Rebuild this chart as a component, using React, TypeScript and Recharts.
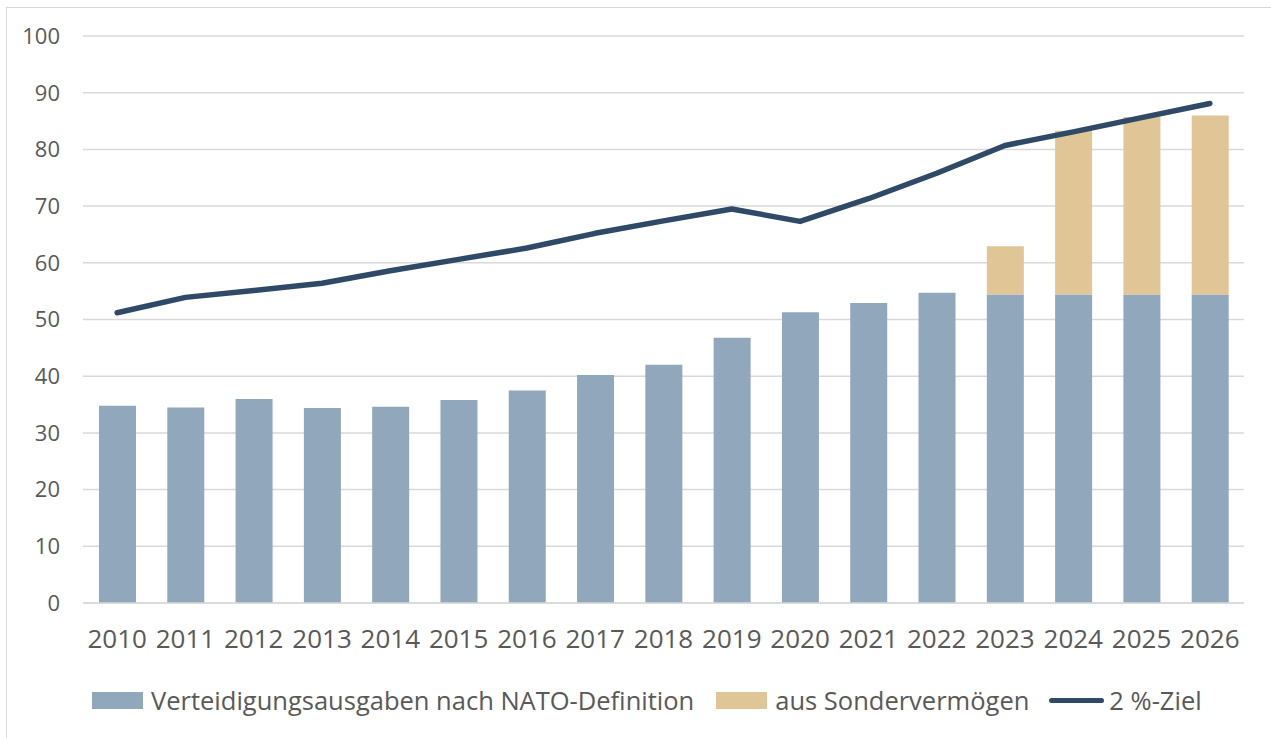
import React from "react";
import { ComposedChart, Bar, Line, XAxis, YAxis, CartesianGrid, Legend } from "recharts";

const years = ["2010","2011","2012","2013","2014","2015","2016","2017","2018","2019","2020","2021","2022","2023","2024","2025","2026"];
const natoSpending = [34.8,34.5,36.0,34.4,34.6,35.8,37.5,40.2,42.0,46.8,51.3,52.9,54.7,54.4,54.4,54.4,54.4];
const specialFund = [0,0,0,0,0,0,0,0,0,0,0,0,0,8.5,28.9,31.3,31.6];
const twoPercentTarget = [51.2,53.9,55.1,56.4,58.6,60.6,62.6,65.2,67.4,69.5,67.3,71.3,75.8,80.7,83.1,85.6,88.1];
const yTicks = [0,10,20,30,40,50,60,70,80,90,100];

const data = years.map((y, i) => ({
  year: y,
  nato: natoSpending[i],
  sonder: specialFund[i] || null,
  ziel: twoPercentTarget[i],
}));

const FONT = "'Open Sans', 'Noto Sans', sans-serif";
const TEXT = "#595959";
const BLUE = "#91a7bb";
const TAN = "#e0c596";
const NAVY = "#2e4a66";

const legendItems = [
  { label: "Verteidigungsausgaben nach NATO-Definition", color: BLUE, type: "rect", gapAfter: 22 },
  { label: "aus Sondervermögen", color: TAN, type: "rect", gapAfter: 20 },
  { label: "2 %-Ziel", color: NAVY, type: "line", gapAfter: 0 },
];

const LegendContent = () => (
  <div style={{ display: "flex", justifyContent: "flex-start", alignItems: "center", height: 40, fontFamily: FONT, fontSize: 25.5, color: TEXT, paddingLeft: 92, whiteSpace: "nowrap" }}>
    {legendItems.map((it) => (
      <div key={it.label} style={{ display: "flex", alignItems: "center", marginRight: it.gapAfter }}>
        {it.type === "rect" ? (
          <div style={{ width: 51, height: 17, background: it.color, marginRight: 8 }} />
        ) : (
          <div style={{ width: 55, height: 5, borderRadius: 3, background: it.color, marginRight: 5 }} />
        )}
        <span>{it.label}</span>
      </div>
    ))}
  </div>
);

export default function App() {
  return (
    <div style={{ position: "absolute", left: 0, top: 0, width: 1271, height: 738, background: "#fff" }}>
      <div style={{ position: "absolute", left: 6, top: 7, width: 1270, height: 740, border: "1.5px solid #d9d9d9", boxSizing: "border-box" }} />
      <ComposedChart
        width={1271}
        height={738}
        data={data}
        margin={{ top: 36, right: 27, left: 0, bottom: 18 }}
        barSize={37}
      >
        <CartesianGrid vertical={false} stroke="#d9d9d9" strokeWidth={1.5} />
        <XAxis
          dataKey="year"
          axisLine={{ stroke: "#d9d9d9", strokeWidth: 1.5 }}
          tickLine={false}
          tickSize={0}
          tickMargin={27}
          height={77}
          interval={0}
          tick={{ fill: TEXT, fontSize: 26, fontFamily: FONT }}
        />
        <YAxis
          width={83}
          domain={[0, 100]}
          ticks={yTicks}
          axisLine={false}
          tickLine={false}
          tickSize={0}
          tickMargin={23}
          tick={{ fill: TEXT, fontSize: 22, fontFamily: FONT }}
        />
        <Legend verticalAlign="bottom" height={40} content={<LegendContent />} />
        <Bar dataKey="nato" stackId="a" fill={BLUE} isAnimationActive={false} name="Verteidigungsausgaben nach NATO-Definition" />
        <Bar dataKey="sonder" stackId="a" fill={TAN} isAnimationActive={false} name="aus Sondervermögen" />
        <Line dataKey="ziel" type="linear" stroke={NAVY} strokeWidth={5.5} strokeLinecap="round" strokeLinejoin="round" dot={false} activeDot={false} isAnimationActive={false} name="2 %-Ziel" />
      </ComposedChart>
    </div>
  );
}
